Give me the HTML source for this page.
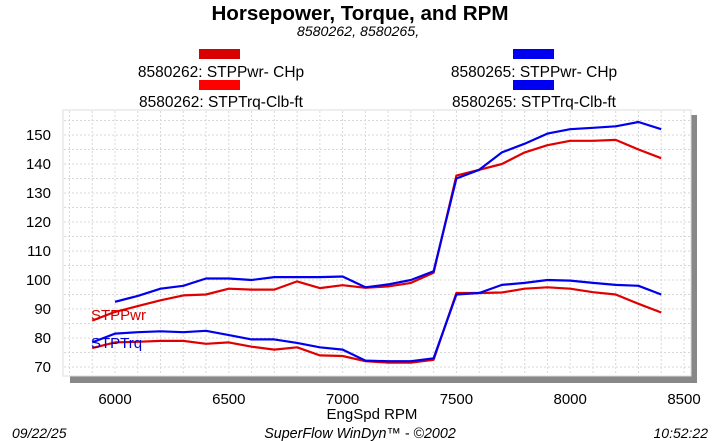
<!DOCTYPE html>
<html><head><meta charset="utf-8"><style>
html,body{margin:0;padding:0;background:#fff;}
svg{display:block;font-family:"Liberation Sans",sans-serif;}
</style></head><body>
<svg id="s" width="720" height="441" viewBox="0 0 720 441" xmlns="http://www.w3.org/2000/svg">
<text x="360" y="20" text-anchor="middle" font-size="20.6" font-weight="bold">Horsepower, Torque, and RPM</text>
<text x="358" y="36" text-anchor="middle" font-size="14.2" font-style="italic">8580262, 8580265,</text>
<rect x="199" y="49" width="41" height="10" fill="#d80000"/>
<rect x="199" y="80" width="41" height="10" fill="#ff0000"/>
<rect x="513" y="49" width="41" height="10" fill="#0000f0"/>
<rect x="513" y="80" width="41" height="10" fill="#0000f0"/>
<text x="221" y="77" text-anchor="middle" font-size="15.5">8580262: STPPwr- CHp</text>
<text x="221" y="107" text-anchor="middle" font-size="15.5">8580262: STPTrq-Clb-ft</text>
<text x="534" y="77" text-anchor="middle" font-size="15.5">8580265: STPPwr- CHp</text>
<text x="534" y="107" text-anchor="middle" font-size="15.5">8580265: STPTrq-Clb-ft</text>
<rect x="70" y="376" width="627" height="7" fill="#888"/>
<rect x="691" y="115" width="6" height="268" fill="#888"/>
<rect x="63" y="110" width="628" height="266" fill="#fff" stroke="#ddd" stroke-width="1"/>
<g id="grid" stroke="#d8d8d8" stroke-width="1" stroke-dasharray="2,2"></g>
<g id="lab" font-size="15"></g>
<g id="ser" fill="none" stroke-width="2.2" stroke-linejoin="round"></g>
<text x="91" y="320" font-size="15" fill="#d00000">STPPwr</text>
<text x="91" y="348" font-size="15" fill="#0000d0">STPTrq</text>
<text x="372" y="419" text-anchor="middle" font-size="15">EngSpd  RPM</text>
<text x="12" y="438" font-size="14" font-style="italic">09/22/25</text>
<text x="360" y="438" text-anchor="middle" font-size="14.3" font-style="italic">SuperFlow WinDyn™ - ©2002</text>
<text x="708" y="438" text-anchor="end" font-size="14" font-style="italic">10:52:22</text>
</svg>
<script>
var NS="http://www.w3.org/2000/svg";
function X(r){return 115+(r-6000)*0.2276;}
function Y(v){return 135+(150-v)*2.9;}
function el(t,a,p,txt){var e=document.createElementNS(NS,t);for(var k in a)e.setAttribute(k,a[k]);if(txt)e.textContent=txt;document.getElementById(p).appendChild(e);}
for(var r=5800;r<=8500;r+=100){var x=X(r);if(x>63&&x<691)el("line",{x1:x,y1:111,x2:x,y2:375},"grid");}
for(var v=70;v<=155;v+=5){var y=Y(v);if(y>110&&y<376)el("line",{x1:64,y1:y,x2:690,y2:y},"grid");}
for(var v=70;v<=150;v+=10)el("text",{x:51,y:Y(v)+5,"text-anchor":"end"},"lab",String(v));
for(var r=6000;r<=8500;r+=500)el("text",{x:X(r),y:404,"text-anchor":"middle"},"lab",String(r));
function poly(start,vals,col){var p=[];for(var i=0;i<vals.length;i++)p.push(X(start+i*100).toFixed(1)+","+Y(vals[i]).toFixed(1));el("polyline",{points:p.join(" "),stroke:col},"ser");}
poly(5900,[86,89,91,93,94.7,95,97,96.7,96.7,99.5,97.2,98.2,97.3,97.8,99,102.5,136,138,140,144,146.5,148,148,148.3,145,142],"#e00000");
poly(5900,[76.5,78.5,78.7,79,79,78,78.5,77,76,76.8,74,73.8,72,71.5,71.5,72.5,95.5,95.5,95.7,97,97.5,97,95.8,95,91.8,88.8],"#e00000");
poly(6000,[92.5,94.5,97,98,100.5,100.5,100,101,101,101,101.2,97.5,98.5,100,103,135,138,144,147,150.5,152,152.5,153,154.5,152],"#0000ee");
poly(5900,[78.5,81.5,82,82.3,82,82.5,81,79.5,79.5,78.3,76.8,76,72.2,72,72,73,95,95.5,98.3,99,100,99.8,99,98.3,98,95],"#0000ee");
</script>
</body></html>
